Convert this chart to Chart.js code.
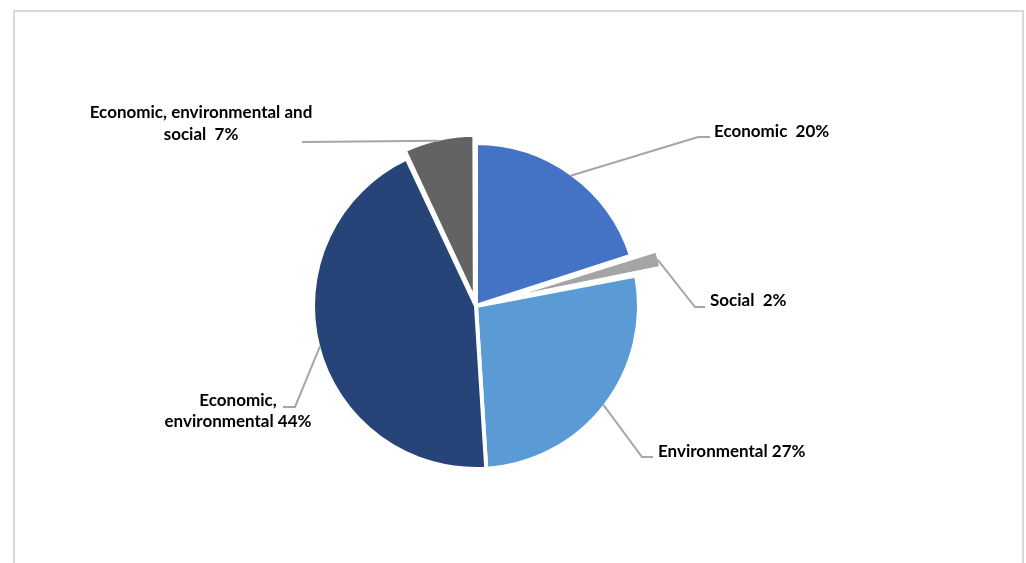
<!DOCTYPE html>
<html lang="en">

<head>
    <meta charset="UTF-8">
    <title>Pie</title>
    <script src="https://cdn.jsdelivr.net/npm/chart.js"></script>
    <style>
        body { margin: 0; background: #fff; }
        .quadro {
            position: relative;
            width: 1026px;
            height: 563px;
        }
        .moldura {
            position: absolute;
            left: 13px;
            top: 10px;
            width: 1007px;
            height: 560px;
            border: 2px solid #d9d9d9;
            border-bottom: none;
        }
        canvas { position: absolute; left: 0; top: 0; }
    </style>
</head>

<body>
    <div class="quadro">
        <div class="moldura"></div>
        <canvas id="pizza" width="1026" height="563"></canvas>
    </div>
</body>

</html>
<script>
    // dados
    var categorias = ['Economic', 'Social', 'Environmental', 'Economic, environmental', 'Economic, environmental and social'];
    var valores = [20, 2, 27, 44, 7];
    var separador = ['  ', '  ', ' ', ' ', '  '];
    var cores = ['#4472C4', '#A5A5A5', '#5B9BD5', '#264478', '#636363'];
    // chart.js v4 move a fatia offset/4 (e aumenta o raio das fatias pequenas)
    var deslocamento = [0, 56, 0, 0, 21];

    // onde fica cada rotulo (cotovelo, fim da linha, texto)
    var rotulos = [
        { cotovelo: [698, 137], fim: [710, 137], x: 714, y: 132, alinhar: 'left', largura: 400, altura: 21 },
        { cotovelo: [695, 307], fim: [705, 307], x: 710, y: 301, alinhar: 'left', largura: 400, altura: 21 },
        { cotovelo: [642, 457], fim: [653, 457], x: 658, y: 452, alinhar: 'left', largura: 400, altura: 21 },
        { cotovelo: [295, 407], fim: [283, 407], x: 238, y: 401, alinhar: 'center', largura: 170, altura: 21 },
        { cotovelo: [302, 142], fim: [302, 142], x: 201, y: 113, alinhar: 'center', largura: 250, altura: 22 }
    ];

    function quebrar(ctx, texto, largura) {
        var palavras = texto.split(' ');
        var linhas = [];
        var atual = '';
        palavras.forEach(function (p) {
            var teste = atual === '' ? p : atual + ' ' + p;
            if (ctx.measureText(teste).width > largura && atual.trim() !== '') {
                linhas.push(atual);
                atual = p;
            } else {
                atual = teste;
            }
        });
        linhas.push(atual);
        return linhas;
    }

    const rotulosPlugin = {
        id: 'rotulos',
        afterDatasetsDraw(chart) {
            const ctx = chart.ctx;
            const meta = chart.getDatasetMeta(0);
            ctx.save();
            ctx.font = 'bold 17px Lato';
            ctx.textBaseline = 'middle';
            meta.data.forEach(function (arco, i) {
                const r = rotulos[i];
                const meio = (arco.startAngle + arco.endAngle) / 2;
                const circ = arco.endAngle - arco.startAngle;
                const t = deslocamento[i] / 4;
                const cresce = t * (1 - Math.sin(Math.min(Math.PI, circ)));
                const dist = arco.outerRadius + t + cresce - 2;
                const sx = arco.x + Math.cos(meio) * dist;
                const sy = arco.y + Math.sin(meio) * dist;

                ctx.strokeStyle = '#a6a6a6';
                ctx.lineWidth = 2;
                ctx.beginPath();
                ctx.moveTo(sx, sy);
                ctx.lineTo(r.cotovelo[0], r.cotovelo[1]);
                ctx.lineTo(r.fim[0], r.fim[1]);
                ctx.stroke();

                const texto = categorias[i] + separador[i] + valores[i] + '%';
                const linhas = quebrar(ctx, texto, r.largura);
                ctx.fillStyle = '#000';
                ctx.textAlign = r.alinhar;
                linhas.forEach(function (l, k) {
                    ctx.fillText(l.trim(), r.x, r.y + k * r.altura);
                });
            });
            ctx.restore();
        }
    };

    const data = {
        labels: categorias,
        datasets: [{
            data: valores,
            backgroundColor: cores,
            borderColor: '#ffffff',
            borderWidth: 4,
            offset: deslocamento
        }]
    };

    const config = {
        type: 'pie',
        data: data,
        options: {
            responsive: false,
            animation: false,
            radius: 163,
            layout: {
                padding: { left: 0, right: 74, top: 49, bottom: 0 }
            },
            plugins: {
                legend: { display: false },
                tooltip: { enabled: false }
            }
        },
        plugins: [rotulosPlugin]
    };

    const pizza = new Chart(document.getElementById('pizza'), config);
</script>
